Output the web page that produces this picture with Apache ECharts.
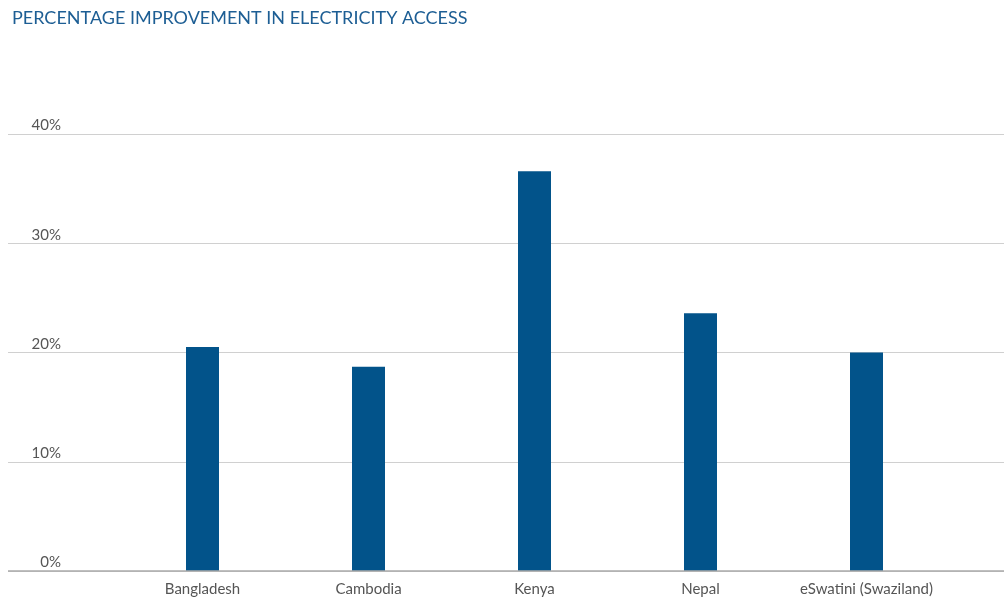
<!DOCTYPE html>
<html><head><meta charset="utf-8">
<script src="https://cdn.jsdelivr.net/npm/echarts@6/dist/echarts.min.js"></script>
<style>html,body{margin:0;padding:0;background:#fff}#c{width:1004px;height:597px}</style>
</head><body><div id="c"></div>
<script>
const categories = ['Bangladesh', 'Cambodia', 'Kenya', 'Nepal', 'eSwatini (Swaziland)'];
const values = [20.5, 18.7, 36.6, 23.6, 20.0];
const yTicks = [0, 10, 20, 30, 40];

const chart = echarts.init(document.getElementById('c'), null, {renderer: 'canvas'});
const TOP = 134, BOTTOM = 26;
chart.setOption({
  animation: false,
  title: {
    text: 'PERCENTAGE IMPROVEMENT IN ELECTRICITY ACCESS',
    left: 7, top: 4,
    textStyle: {fontFamily: 'Lato', fontSize: 18, fontWeight: 'normal', color: '#1d5e94'}
  },
  grid: [
    {left: 8, right: 0, top: TOP, bottom: BOTTOM},
    {left: 119.5, right: 54.5, top: TOP, bottom: BOTTOM}
  ],
  xAxis: [
    {gridIndex: 0, type: 'value', show: false},
    {gridIndex: 1, type: 'category', data: categories,
     axisLine: {show: false}, axisTick: {show: false},
     axisLabel: {interval: 0, color: '#555', fontFamily: 'Lato', fontSize: 15, margin: 11}}
  ],
  yAxis: [
    {gridIndex: 0, type: 'value', min: 0, max: 40, interval: 10,
     axisLine: {show: false}, axisTick: {show: false},
     splitLine: {lineStyle: {color: '#d0d0d0', width: 1}},
     axisLabel: {inside: true, align: 'right', margin: 53, verticalAlign: 'bottom',
       padding: [0, 0, 1, 0], color: '#555', fontFamily: 'Lato', fontSize: 15,
       formatter: v => yTicks.includes(v) ? v + '%' : ''}},
    {gridIndex: 1, type: 'value', min: 0, max: 40, interval: 10, show: false}
  ],
  series: [
    {type: 'bar', xAxisIndex: 1, yAxisIndex: 1, data: values, barWidth: 33,
     itemStyle: {color: '#02538a'}},
    {type: 'line', xAxisIndex: 0, yAxisIndex: 0, data: [], 
     markLine: {silent: true, symbol: 'none', label: {show: false},
       lineStyle: {color: '#aaaaaa', width: 1.5, type: 'solid'},
       data: [{yAxis: 0}]}}
  ]
});
</script></body></html>
